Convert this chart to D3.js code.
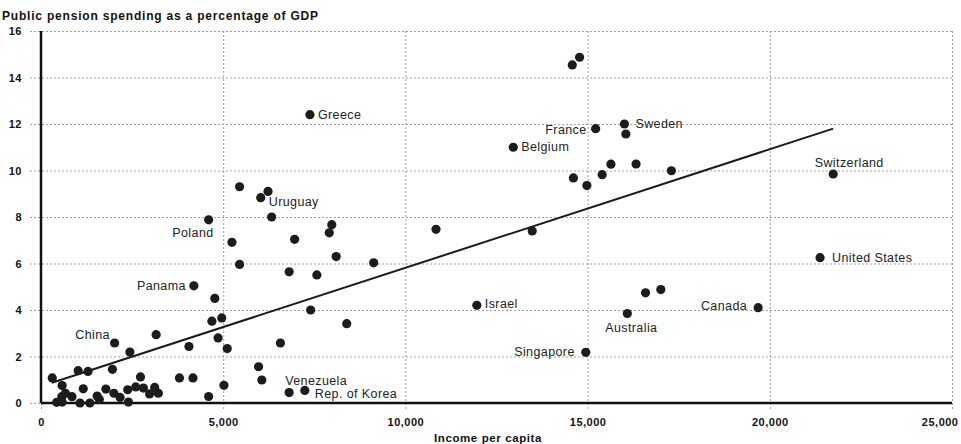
<!DOCTYPE html>
<html>
<head>
<meta charset="utf-8">
<script src="https://cdn.jsdelivr.net/npm/d3@7"></script>
<style>
  body { margin: 0; background: #fff; }
  svg { display: block; font-family: "Liberation Sans", Arial, sans-serif; }
  .title { font-weight: bold; font-size: 12px; letter-spacing: 0.8px; fill: #111; }
  .axis-title { font-weight: bold; font-size: 11.5px; letter-spacing: 0.6px; fill: #111; }
  .tick text { font-weight: bold; font-size: 11px; fill: #111; letter-spacing: 0.5px; }
  .grid line { stroke: #a0a0a0; stroke-width: 1; stroke-dasharray: 2,2; }
  .label { font-size: 12.5px; fill: #222; letter-spacing: 0.4px; }
</style>
</head>
<body>
<div class="chart"></div>
<script>
// income per capita (US$) and public pension spending (% of GDP)
const incomes = [
  7380, 15220, 16010, 12960, 21740, 21380, 19680, 11960, 16090, 14950,
  6030, 4600, 4195, 2020, 6810, 7240,
  14580, 14780, 16050, 15640, 16330, 17300, 15400, 14610, 14980,
  16590, 17010, 8390, 10840, 13480,
  5450, 6230, 6330, 5240, 5450, 6960, 7980, 7910, 8100, 9130, 6810, 7570, 7400,
  4770, 4690, 4960, 4860, 5110, 4060, 3160, 2440,
  1960, 1020, 1290, 310, 580, 2730, 3800, 4170, 1160, 670, 570, 430, 580, 850,
  1070, 1340, 1540, 1600, 1780, 2000, 2170, 2400, 2380, 2600, 2810, 3120, 2980,
  3220, 4600, 5020, 5970, 6060, 6570
];
const pensions = [
  12.4, 11.8, 12.0, 11.0, 9.85, 6.25, 4.1, 4.2, 3.85, 2.18,
  8.83, 7.88, 5.04, 2.58, 0.45, 0.54,
  14.54, 14.87, 11.57, 10.27, 10.28, 9.99, 9.82, 9.68, 9.35,
  4.74, 4.88, 3.41, 7.47, 7.4,
  9.3, 9.1, 8.0, 6.91, 5.96, 7.04, 7.67, 7.32, 6.3, 6.03, 5.64, 5.51, 4.0,
  4.5, 3.52, 3.66, 2.8, 2.34, 2.43, 2.94, 2.19,
  1.45, 1.39, 1.36, 1.08, 0.75, 1.12, 1.08, 1.08, 0.61, 0.42, 0.27, 0.03, 0.04, 0.27,
  0, 0, 0.3, 0.15, 0.6, 0.42, 0.24, 0.04, 0.57, 0.69, 0.64, 0.67, 0.39,
  0.42, 0.28, 0.76, 1.56, 0.99, 2.58
];
const countries = [
  "Greece", "France", "Sweden", "Belgium", "Switzerland", "United States", "Canada", "Israel", "Australia", "Singapore",
  "Uruguay", "Poland", "Panama", "China", "Venezuela", "Rep. of Korea"
];

// fitted line end points
const trendIncome = [300, 21740];
const trendPension = [0.87, 11.8];

const xTicks = [0, 5000, 10000, 15000, 20000, 25000];
const yTicks = [0, 2, 4, 6, 8, 10, 12, 14, 16];

// where each country name sits relative to its dot
const labelPos = {
  "Greece": [8, 0, "start"],
  "France": [-9, 1, "end"],
  "Sweden": [11, 0, "start"],
  "Belgium": [8, 0, "start"],
  "Switzerland": [16, -11, "middle"],
  "United States": [12, 0, "start"],
  "Canada": [-11, -2, "end"],
  "Israel": [8, -1, "start"],
  "Australia": [4, 15, "middle"],
  "Singapore": [-11, 0, "end"],
  "Uruguay": [8, 4, "start"],
  "Poland": [5, 13, "end"],
  "Panama": [-8, 0, "end"],
  "China": [-22, -8, "middle"],
  "Venezuela": [-4, -12, "start"],
  "Rep. of Korea": [10, 4, "start"]
};

const W = 961, H = 444;
const svg = d3.select(".chart").append("svg")
  .attr("width", W)
  .attr("height", H);

const x = d3.scaleLinear().domain([0, 25000]).range([41, 952]);
const y = d3.scaleLinear().domain([0, 16]).range([403, 31]);

svg.append("text")
  .attr("class", "title")
  .attr("x", 2)
  .attr("y", 20)
  .text("Public pension spending as a percentage of GDP");

// horizontal grid + y labels
const yAxis = svg.append("g")
  .attr("class", "grid")
  .attr("transform", "translate(30,0)")
  .call(d3.axisLeft(y).tickValues(yTicks).tickSize(0).tickPadding(8));
yAxis.select(".domain").remove();
yAxis.selectAll(".tick line")
  .attr("x1", 0)
  .attr("x2", x(25000) - 30);

// vertical grid + x labels
const xAxis = svg.append("g")
  .attr("class", "grid")
  .attr("transform", "translate(0," + y(0) + ")")
  .call(d3.axisBottom(x).tickValues(xTicks).tickFormat(d3.format(",")).tickSize(0).tickPadding(15));
xAxis.select(".domain").remove();
xAxis.selectAll(".tick line")
  .attr("y1", y(16) - y(0))
  .attr("y2", 8);
// last label sits against the right edge
xAxis.selectAll(".tick text")
  .filter(d => d === 25000)
  .attr("text-anchor", "end")
  .attr("dx", 6);

svg.append("text")
  .attr("class", "axis-title")
  .attr("x", 488)
  .attr("y", 442)
  .attr("text-anchor", "middle")
  .text("Income per capita");

// main axes
svg.append("line")
  .attr("x1", x(0)).attr("x2", x(0))
  .attr("y1", y(16)).attr("y2", y(0))
  .attr("stroke", "#111").attr("stroke-width", 2.5);
svg.append("line")
  .attr("x1", x(0)).attr("x2", x(25000))
  .attr("y1", y(0)).attr("y2", y(0))
  .attr("stroke", "#111").attr("stroke-width", 2.5);

// trend line
svg.append("line")
  .attr("x1", x(trendIncome[0])).attr("y1", y(trendPension[0]))
  .attr("x2", x(trendIncome[1])).attr("y2", y(trendPension[1]))
  .attr("stroke", "#1a1a1a").attr("stroke-width", 2);

const points = incomes.map((v, i) => ({income: v, pension: pensions[i], name: countries[i] || ""}));

svg.selectAll("circle.dot")
  .data(points)
  .join("circle")
    .attr("class", "dot")
    .attr("cx", d => x(d.income))
    .attr("cy", d => y(d.pension))
    .attr("r", 4.6)
    .attr("fill", "#1c1c1c");

svg.selectAll("text.label")
  .data(points.filter(d => d.name))
  .join("text")
    .attr("class", "label")
    .attr("x", d => x(d.income) + labelPos[d.name][0])
    .attr("y", d => y(d.pension) + labelPos[d.name][1])
    .attr("text-anchor", d => labelPos[d.name][2])
    .attr("dominant-baseline", "central")
    .text(d => d.name);
</script>
</body>
</html>
